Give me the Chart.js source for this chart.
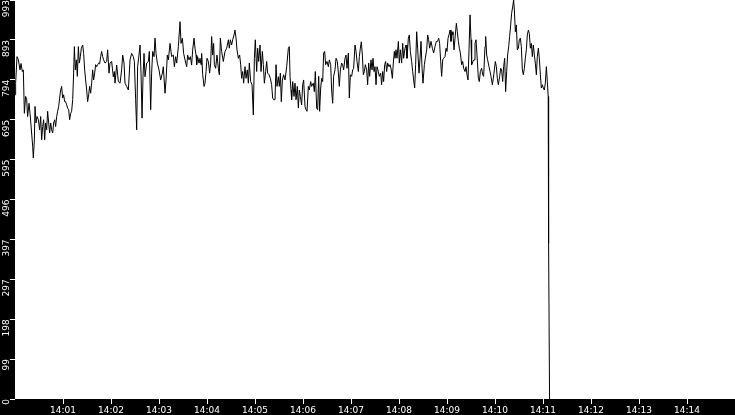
<!DOCTYPE html>
<html>
<head>
<meta charset="utf-8">
<title>Trace 14:00 - 14:15</title>
<style>
  html, body { margin: 0; padding: 0; background: #000; }
  #wrap { width: 735px; height: 415px; }
</style>
</head>
<body>
<div id="wrap"><canvas id="trace" width="735" height="415"></canvas></div>
<script src="https://cdn.jsdelivr.net/npm/chart.js@4/dist/chart.umd.min.js"></script>
<script>
// Data: [seconds after 14:00:00, value]

const seg1 = [
  [0, 757], [0.8, 786], [2.5, 852], [4.2, 844], [6.3, 819], [7.5, 835], [9.2, 815], [10.4, 819],
  [11.7, 711], [13.3, 753], [14.6, 745], [15.8, 703], [17.5, 736], [18.8, 711], [20.8, 662],
  [22.1, 629], [22.9, 600], [24.2, 645], [25, 728], [26.3, 687], [27.5, 703], [29.2, 695],
  [30.8, 670], [32.1, 703], [33.3, 645], [34.6, 678], [35.8, 695], [37.1, 645], [38.3, 687],
  [39.6, 670], [40.8, 716], [42.1, 687], [43.3, 662], [44.6, 687], [45.8, 670], [47.1, 662],
  [48.3, 687], [49.6, 695], [50.8, 678], [52.1, 703], [53.3, 716], [54.6, 728], [55.8, 749],
  [57.1, 769], [58.3, 778], [59.6, 749], [60.8, 757], [62.1, 740], [63.3, 740], [64.6, 732],
  [65.8, 724], [67.1, 720], [68.3, 695], [69.6, 711], [70.8, 716], [72.1, 745], [73.3, 811],
  [74.2, 877], [75.4, 819], [76.7, 844], [77.9, 803], [79.2, 877], [80.4, 836], [81.7, 852],
  [82.9, 873], [84.6, 881], [85.8, 860], [87.1, 819], [88.3, 794], [89.6, 769], [90.8, 740],
  [92.1, 757], [93.3, 778], [94.6, 761], [95.8, 786], [97.1, 819], [98.3, 794], [99.6, 811],
  [100.8, 832], [102.1, 827], [103.3, 832], [104.6, 836], [105.8, 834], [107.1, 852],
  [108.3, 865], [109.6, 852], [110.8, 844], [112.5, 836],
];

const seg2 = [
  [114.6, 840], [115.8, 869], [117.5, 811], [118.8, 836], [120.8, 840], [122.9, 802], [124.2, 815],
  [125, 786], [127.1, 831], [129.2, 790], [131.3, 786], [133.3, 819], [134.6, 856], [136.3, 836],
  [137.5, 786], [139.6, 778], [141.7, 769], [143.8, 844], [145.8, 860], [147.9, 852], [149.2, 840],
  [150.8, 745], [152.1, 670], [153.3, 827], [155, 856], [156.3, 881], [157.5, 811], [158.8, 699],
  [160, 802], [161.3, 860], [162.5, 802], [164.6, 836], [166.7, 840], [167.9, 865], [169.6, 720],
  [170.8, 811], [172.1, 865], [173.8, 852], [175, 898], [176.3, 860], [177.9, 836], [180, 819],
  [182.1, 794], [184.2, 811], [185.4, 827], [187.5, 761], [188.8, 794], [190.4, 856], [191.7, 844],
  [193.8, 885], [195.8, 852], [197.9, 856], [199.2, 827], [200.8, 852], [202.1, 836], [204.2, 877],
  [206.3, 939], [207.5, 885], [209.2, 898], [210.8, 860], [212.5, 844], [214.6, 827], [215.8, 856],
  [217.5, 844], [219.2, 852], [220.8, 831], [222.1, 869], [223.8, 898], [225, 873],
];

const seg3 = [
  [226.3, 856], [227.1, 832], [228.3, 852], [230, 836], [231.3, 848], [232.5, 832], [233.3, 860],
  [234.6, 807], [236.3, 778], [237.5, 786], [238.8, 815], [240, 848], [241.7, 840], [243.3, 811],
  [244.6, 836], [245.8, 902], [247.1, 856], [248.3, 885], [249.2, 832], [250.8, 823], [252.5, 856],
  [254.2, 823], [255.4, 807], [256.7, 898], [258.3, 865], [260.4, 840], [262.5, 865], [264.6, 873],
  [266.7, 894], [267.9, 873], [269.2, 894], [270.8, 881], [272.1, 894], [273.8, 906], [275, 918],
  [276.3, 898], [277.5, 869], [279.2, 848], [280.8, 856], [282.1, 832], [283.3, 798], [284.6, 815],
  [285.8, 786], [287.5, 827], [288.8, 798], [290.4, 819], [291.7, 786], [292.9, 836], [294.6, 790],
  [296.3, 782], [297.9, 707], [299.2, 848], [300.4, 894], [302.1, 815], [303.3, 873], [304.6, 840],
  [306.3, 881], [307.5, 815], [309.2, 865], [310.4, 832], [311.7, 786], [313.3, 815], [314.6, 840],
  [315.8, 811], [317.5, 807], [319.2, 798], [320.8, 782], [322.1, 749], [323.3, 745], [325, 745],
  [326.3, 832], [327.5, 778], [329.2, 802], [330.4, 778], [331.7, 811], [332.9, 740], [334.2, 794],
  [335.8, 807], [337.5, 794],
];

const seg4 = [
  [339.6, 827], [341.7, 873], [342.9, 877], [343.8, 803], [345, 769], [345.8, 745], [347.1, 790],
  [348.8, 753], [350, 786], [351.3, 745], [352.9, 778], [354.2, 724], [355.4, 769], [356.7, 753],
  [358.3, 732], [359.6, 782], [360.8, 794], [362.5, 728], [363.8, 720], [365, 716], [366.7, 778],
  [367.9, 769], [369.6, 790], [370.8, 778], [372.9, 786], [374.2, 765], [375.4, 815], [377.1, 724],
  [378.3, 720], [379.6, 803], [380.8, 716], [382.1, 774], [383.3, 798], [384.6, 790], [385.8, 861],
  [387.1, 865], [388.3, 832], [390, 840], [391.7, 827], [392.9, 844], [394.6, 832], [395.8, 769],
  [397.1, 736], [398.3, 803], [400, 819], [401.3, 848], [402.9, 840], [404.2, 811], [405.4, 778],
  [406.7, 819], [408.3, 836], [409.6, 832], [410.8, 819], [412.5, 848], [413.8, 856], [415, 823],
  [416.7, 861], [417.9, 749], [419.2, 807], [420.8, 803], [422.1, 819], [423.3, 823], [425, 881],
  [426.3, 865], [427.5, 840], [429.2, 815], [430.4, 852], [431.7, 873], [432.9, 889], [434.2, 856],
  [435.4, 807], [436.7, 815], [437.9, 832], [439.6, 819], [440.8, 782], [442.1, 836], [443.3, 803],
  [445, 844], [446.3, 819], [447.5, 848], [448.8, 815], [450, 827],
];

const seg5 = [
  [451.3, 782], [452.5, 827], [454.2, 815], [455.4, 803], [457.1, 811], [458.3, 782], [459.6, 815],
  [460.8, 790], [462.1, 832], [463.3, 840], [464.6, 815], [465.8, 836], [467.5, 827], [468.8, 832],
  [470, 823], [471.7, 798], [472.9, 836], [474.2, 865], [475, 848], [476.3, 869], [477.5, 848],
  [479.2, 890], [480.4, 836], [481.7, 869], [483.3, 836], [484.6, 885], [485.8, 848], [487.5, 873],
  [488.8, 881], [490, 848], [491.7, 898], [492.9, 906], [494.2, 865], [495.8, 840], [497.1, 815],
  [498.3, 794], [499.6, 774], [500.8, 832], [502.1, 914], [503.3, 873], [505, 811], [506.3, 848],
  [507.5, 890], [508.8, 823], [510, 786], [511.7, 832], [512.9, 848], [514.6, 869], [515.8, 906],
  [517.1, 894], [518.3, 873], [520, 890], [521.7, 873], [523.3, 861], [525, 877], [526.7, 890],
  [528.3, 890], [529.6, 898], [530.8, 885], [532.1, 840], [533.3, 803], [534.6, 844], [535.8, 848],
  [537.5, 852], [538.8, 873], [540, 865], [541.3, 898], [542.5, 906], [543.8, 918], [545, 890],
  [546.3, 914], [547.5, 906], [548.8, 869], [550, 898], [551.7, 935], [552.9, 914], [554.2, 890],
  [555.4, 873], [556.7, 861], [558.3, 832], [559.6, 840], [560.8, 823], [562.5, 815],
];

const seg6 = [
  [563.8, 827], [565, 807], [566.3, 794], [567.5, 869], [568.8, 956], [570, 894], [570.8, 832],
  [572.5, 840], [573.8, 844], [575, 885], [576.3, 894], [577.5, 856], [579.2, 798], [580.4, 790],
  [581.7, 815], [583.3, 823], [584.6, 807], [585.8, 803], [587.5, 877], [588.3, 902], [589.6, 856],
  [590.8, 844], [592.5, 827], [593.8, 815], [595, 803], [596.7, 782], [597.9, 798], [599.2, 819],
  [600.4, 840], [601.7, 827], [602.9, 798], [604.2, 782], [605.8, 803], [607.1, 823], [608.3, 819],
  [609.6, 790], [610.8, 827], [612.1, 848], [613.3, 765], [614.6, 815], [615.8, 856], [617.1, 877],
  [618.3, 902], [619.6, 931], [620.8, 960], [622.1, 976], [623.3, 993], [624.2, 968], [625.4, 914],
  [626.7, 931], [627.9, 869], [629.2, 873], [630.4, 894], [631.7, 898], [632.9, 877], [634.2, 819],
  [635.4, 807], [636.7, 823], [637.9, 848], [639.2, 869], [640.4, 906], [641.7, 918], [642.9, 910],
  [644.2, 873], [645.4, 885], [646.7, 852], [647.9, 881], [649.2, 856], [650.4, 836], [651.7, 807],
  [652.9, 852], [654.2, 873], [655.4, 848], [656.7, 807], [657.9, 774], [659.2, 782], [660.4, 774],
  [661.7, 769], [662.9, 786], [664.2, 827], [665.4, 790], [666.5, 753],
];

// the signal falls away just after 14:11
const drop = [[667, 387], [668.2, 0]];

const yMax = 993;
const yTickLabels = ["0", "99", "198", "297", "397", "496", "595", "695", "794", "893", "993"];
const xTickLabels = ["14:01", "14:02", "14:03", "14:04", "14:05", "14:06", "14:07",
  "14:08", "14:09", "14:10", "14:11", "14:12", "14:13", "14:14"];

// Build points

let points = [];
for (let seg of [seg1, seg2, seg3, seg4, seg5, seg6, drop]) {
  for (let [t, v] of seg) {
    points.push({ x: t, y: v });
  }
}

function minuteToSeconds(label) {
  return Number(label.split(":")[1]) * 60;
}

const tickFont = { family: "DejaVu Sans", size: 9 };

// Black frame, white plot area
const frame = {
  id: "frame",
  beforeDraw(chart) {
    const { ctx, chartArea, width, height } = chart;
    ctx.save();
    ctx.fillStyle = "#000";
    ctx.fillRect(0, 0, width, height);
    ctx.fillStyle = "#fff";
    ctx.fillRect(chartArea.left, chartArea.top,
      chartArea.right - chartArea.left, chartArea.bottom - chartArea.top);
    ctx.restore();
  },
};

let trace = new Chart(document.getElementById("trace"), {
  type: "line",
  data: {
    datasets: [
      {
        data: points,
        borderColor: "#000",
        borderWidth: 1,
        pointRadius: 0,
        tension: 0,
        fill: false,
      },
    ],
  },
  options: {
    responsive: false,
    animation: false,
    layout: { padding: 0 },
    plugins: {
      legend: { display: false },
      tooltip: { enabled: false },
    },
    scales: {
      x: {
        type: "linear",
        min: 0,
        max: 900,
        afterBuildTicks(scale) {
          scale.ticks = xTickLabels.map((l) => ({ value: minuteToSeconds(l) }));
        },
        afterFit(scale) {
          scale.height = 16;
          scale.paddingLeft = 0;
          scale.paddingRight = 0;
        },
        ticks: {
          color: "#fff",
          font: tickFont,
          padding: 1,
          maxRotation: 0,
          autoSkip: false,
          callback: (value, index) => xTickLabels[index],
        },
        grid: {
          drawOnChartArea: false,
          drawTicks: true,
          tickLength: 5,
          color: "#fff",
        },
        border: { display: false },
      },
      y: {
        type: "linear",
        min: 0,
        max: yMax,
        afterBuildTicks(scale) {
          scale.ticks = yTickLabels.map((l, i) => ({ value: (i * yMax) / (yTickLabels.length - 1) }));
        },
        afterFit(scale) {
          scale.width = 15;
          scale.paddingTop = 0;
          scale.paddingBottom = 0;
        },
        ticks: {
          color: "#fff",
          font: tickFont,
          padding: 3,
          minRotation: 90,
          maxRotation: 90,
          autoSkip: false,
          callback: (value, index) => yTickLabels[index],
        },
        grid: {
          drawOnChartArea: false,
          drawTicks: true,
          tickLength: 5,
          color: "#fff",
        },
        border: { display: false },
      },
    },
  },
  plugins: [frame],
});
</script>
</body>
</html>
